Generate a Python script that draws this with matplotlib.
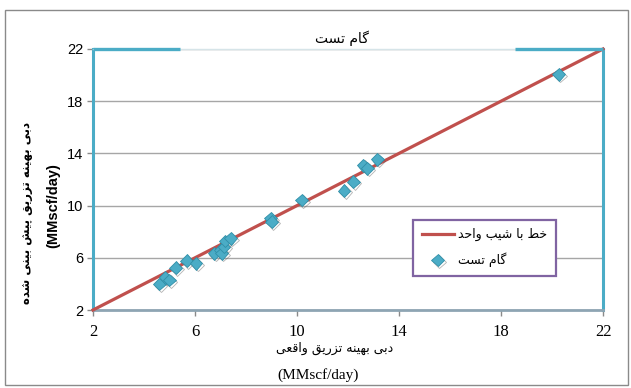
import matplotlib
matplotlib.use("Agg")
import matplotlib.pyplot as plt
import matplotlib.patheffects as pe
from matplotlib.patches import Rectangle

# ---------------- data ----------------
actual = [4.6, 4.82, 4.99, 5.24, 5.67, 6.04, 6.75, 6.98, 7.05, 7.14, 7.18, 7.4,
          8.97, 9.0, 10.18, 11.84, 12.21, 12.6, 12.76, 13.15, 20.26]
predicted = [4.0, 4.5, 4.3, 5.24, 5.78, 5.58, 6.34, 6.6, 6.34, 6.85, 7.29, 7.49,
             9.03, 8.77, 10.43, 11.14, 11.83, 13.1, 12.86, 13.55, 20.06]
unit_line_x = [2, 22]
unit_line_y = [2, 22]
ticks = [2, 6, 10, 14, 18, 22]

title_txt = "گام تست"
line_label = "خط با شیب واحد"
pts_label = "گام تست"
ylabel_fa = "دبی بهینه تزریق پیش بینی شده"
xlabel_fa = "دبی بهینه تزریق واقعی"
unit_txt = "(MMscf/day)"

# ------------- simple Persian shaping -------------
FORMS = {
    'ا': ('\uFE8D', '\uFE8E', None, None),
    'ب': ('\uFE8F', '\uFE90', '\uFE91', '\uFE92'),
    'ت': ('\uFE95', '\uFE96', '\uFE97', '\uFE98'),
    'ح': ('\uFEA1', '\uFEA2', '\uFEA3', '\uFEA4'),
    'خ': ('\uFEA5', '\uFEA6', '\uFEA7', '\uFEA8'),
    'د': ('\uFEA9', '\uFEAA', None, None),
    'ر': ('\uFEAD', '\uFEAE', None, None),
    'ز': ('\uFEAF', '\uFEB0', None, None),
    'س': ('\uFEB1', '\uFEB2', '\uFEB3', '\uFEB4'),
    'ش': ('\uFEB5', '\uFEB6', '\uFEB7', '\uFEB8'),
    'ط': ('\uFEC1', '\uFEC2', '\uFEC3', '\uFEC4'),
    'ع': ('\uFEC9', '\uFECA', '\uFECB', '\uFECC'),
    'ق': ('\uFED5', '\uFED6', '\uFED7', '\uFED8'),
    'م': ('\uFEE1', '\uFEE2', '\uFEE3', '\uFEE4'),
    'ن': ('\uFEE5', '\uFEE6', '\uFEE7', '\uFEE8'),
    'ه': ('\uFEE9', '\uFEEA', '\uFEEB', '\uFEEC'),
    'و': ('\uFEED', '\uFEEE', None, None),
    'ی': ('\uFBFC', '\uFBFD', '\uFBFE', '\uFBFF'),
    'پ': ('\uFB56', '\uFB57', '\uFB58', '\uFB59'),
    'گ': ('\uFB92', '\uFB93', '\uFB94', '\uFB95'),
}


def shape(s):
    out = []
    n = len(s)
    for i, c in enumerate(s):
        if c not in FORMS:
            out.append(c)
            continue
        iso, fin, ini, med = FORMS[c]
        prev = s[i - 1] if i > 0 else None
        nxt = s[i + 1] if i < n - 1 else None
        join_prev = prev in FORMS and FORMS[prev][2] is not None
        join_next = nxt in FORMS and ini is not None
        if join_prev and join_next:
            out.append(med)
        elif join_prev:
            out.append(fin)
        elif join_next:
            out.append(ini)
        else:
            out.append(iso)
    return ''.join(out)[::-1]


# ---------------- figure ----------------
W, H = 631, 388
fig = plt.figure(figsize=(W / 100, H / 100), dpi=100)
fig.patch.set_facecolor('white')
fig.patches.append(Rectangle((5 / W, 3 / H), 623 / W, 375 / H, transform=fig.transFigure,
                             fill=False, edgecolor='#8a8a8a', linewidth=1.0))

ax = fig.add_axes([93 / W, 1 - 310 / H, 510 / W, 261 / H])
ax.set_xlim(2, 22)
ax.set_ylim(2, 22)
ax.set_xticks(ticks)
ax.set_yticks(ticks)
ax.yaxis.grid(True, color='#a6a6a6', linewidth=1.0)
ax.set_axisbelow(True)

ax.plot(unit_line_x, unit_line_y, color='#C0504D', linewidth=2.3, label=shape(line_label),
        zorder=3, clip_on=False)
ax.plot(actual, predicted, linestyle='none', marker='D', markersize=6.5,
        markerfacecolor='#4BACC6', markeredgecolor='#2f8fa8', markeredgewidth=0.6,
        label=shape(pts_label), zorder=4,
        path_effects=[pe.SimpleLineShadow(offset=(1.2, -1.2), shadow_color='#555555', alpha=0.45),
                      pe.Normal()])

for side in ('left', 'right'):
    ax.spines[side].set_color('#4BACC6')
    ax.spines[side].set_linewidth(2.2)
ax.spines['bottom'].set_color('#8ea5b3')
ax.spines['bottom'].set_linewidth(2.0)
ax.spines['top'].set_color('#d6e4e8')
ax.spines['top'].set_linewidth(1.0)
ax.plot([0, 87 / 510], [1, 1], transform=ax.transAxes, color='#4BACC6', linewidth=2.4,
        clip_on=False, zorder=5, solid_capstyle='butt')
ax.plot([422 / 510, 1], [1, 1], transform=ax.transAxes, color='#4BACC6', linewidth=2.4,
        clip_on=False, zorder=5, solid_capstyle='butt')

ax.tick_params(axis='y', length=4, width=1, color='#8a8a8a', pad=3, labelsize=10.5)
ax.tick_params(axis='x', length=4, width=1, color='#8a8a8a', pad=6, labelsize=12)
for lab in ax.get_yticklabels():
    lab.set_fontfamily('Liberation Sans')
for lab in ax.get_xticklabels():
    lab.set_fontfamily('Liberation Serif')

leg = ax.legend(loc='lower left', bbox_to_anchor=(0.627, 0.13), frameon=True, fancybox=False,
                prop={'family': 'DejaVu Sans', 'size': 9}, handlelength=2.6,
                borderpad=0.7, labelspacing=0.9, handletextpad=0.3, borderaxespad=0)
leg.get_frame().set_edgecolor('#8064A2')
leg.get_frame().set_linewidth(1.6)
leg.get_frame().set_alpha(1)

fig.text(342 / W, 1 - 38 / H, shape(title_txt), ha='center', va='center',
         fontsize=10, family='DejaVu Sans')
fig.text(335 / W, 1 - 348 / H, shape(xlabel_fa), ha='center', va='center',
         fontsize=9, family='DejaVu Sans')
fig.text(318 / W, 1 - 375 / H, unit_txt, ha='center', va='center',
         fontsize=11, family='Liberation Serif')
fig.text(27 / W, 1 - 213 / H, shape(ylabel_fa), ha='center', va='center', rotation=90,
         fontsize=8.5, family='DejaVu Sans', fontweight='bold')
fig.text(53 / W, 1 - 206 / H, unit_txt, ha='center', va='center', rotation=90,
         fontsize=10.5, family='Liberation Sans', fontweight='bold')

fig.savefig('out.png', dpi=100, facecolor='white')
